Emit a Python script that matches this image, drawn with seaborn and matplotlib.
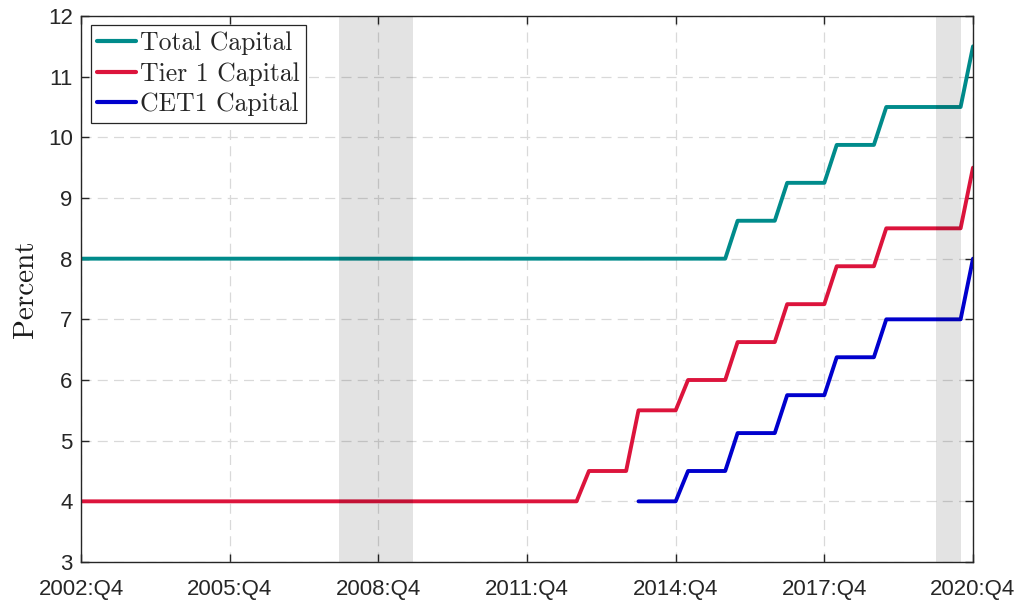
import numpy as np
import pandas as pd
import matplotlib
matplotlib.use("Agg")
import matplotlib.pyplot as plt
import seaborn as sns
from matplotlib.lines import Line2D

# ---- data (quarterly, 2002:Q4 .. 2020:Q4) ----
quarters = [f"{y}:Q{q}" for y in range(2002, 2021) for q in (1, 2, 3, 4)][3:]
total_capital = [8.0]*53 + [8.625]*4 + [9.25]*4 + [9.875]*4 + [10.5]*7 + [11.5]
tier1_capital = [4.0]*41 + [4.5]*4 + [5.5]*4 + [6.0]*4 + [6.625]*4 + [7.25]*4 + [7.875]*4 + [8.5]*7 + [9.5]
cet1_capital = [np.nan]*45 + [4.0]*4 + [4.5]*4 + [5.125]*4 + [5.75]*4 + [6.375]*4 + [7.0]*7 + [8.0]
series_names = ["Total Capital", "Tier 1 Capital", "CET1 Capital"]
tick_labels = ["2002:Q4", "2005:Q4", "2008:Q4", "2011:Q4", "2014:Q4", "2017:Q4", "2020:Q4"]
recessions = [(20.8, 26.8), (69.0, 71.0)]  # in quarter index units
y_ticks = list(range(3, 13))

colors = {"Total Capital": "#008b8b", "Tier 1 Capital": "#dc143c", "CET1 Capital": "#0000cd"}

idx = np.arange(len(quarters))
df = pd.DataFrame({"q": np.tile(idx, 3),
                   "value": total_capital + tier1_capital + cet1_capital,
                   "series": np.repeat(series_names, len(quarters))})
df = df.dropna()

sns.set_theme(style="white")
plt.rcParams["font.family"] = ["Liberation Sans", "DejaVu Sans"]
serif = ["cmr10", "Liberation Serif", "DejaVu Serif"]

fig = plt.figure(figsize=(10.24, 6.03), dpi=100)
ax = fig.add_axes([81/1024, 41/603, (973-81)/1024, (562-16)/603])

sns.lineplot(data=df, x="q", y="value", hue="series", hue_order=series_names,
             palette=colors, linewidth=2.8, ax=ax, legend=False, sort=True,
             estimator=None)

for a, b in recessions:
    ax.axvspan(a, b, color="black", alpha=0.11, lw=0, zorder=5)

ax.set_xlim(0, len(quarters) - 1)
ax.set_ylim(3, 12)
ax.set_xticks([quarters.index(t) for t in tick_labels])
ax.set_xticklabels(tick_labels)
ax.set_yticks(y_ticks)
ax.set_xlabel("")
ax.set_ylabel("Percent", family=serif, fontsize=21, color="#1a1a1a", labelpad=6)
ax.grid(True, linestyle=(0, (8, 5)), color="#d9d9d9", linewidth=0.9)
ax.set_axisbelow(True)

ax.tick_params(axis="both", direction="in", length=6, width=1, color="#262626",
               labelsize=16, labelcolor="#262626", top=True, right=True,
               bottom=True, left=True)
ax.tick_params(axis="x", pad=12)
ax.tick_params(axis="y", pad=6)
for s in ax.spines.values():
    s.set_color("#262626")
    s.set_linewidth(1.0)
    s.set_zorder(10)

handles = [Line2D([], [], color=colors[n], lw=3.0) for n in series_names]
leg = ax.legend(handles, series_names, loc="upper left", bbox_to_anchor=(0.011, 0.983),
                prop={"family": serif, "size": 18.5}, frameon=True,
                fancybox=False, edgecolor="#262626", framealpha=1, borderpad=0.25,
                handlelength=1.5, handletextpad=0.18, labelspacing=0.26, borderaxespad=0)
leg.get_frame().set_linewidth(0.9)
leg.set_zorder(20)

fig.savefig("out.png", dpi=100)
